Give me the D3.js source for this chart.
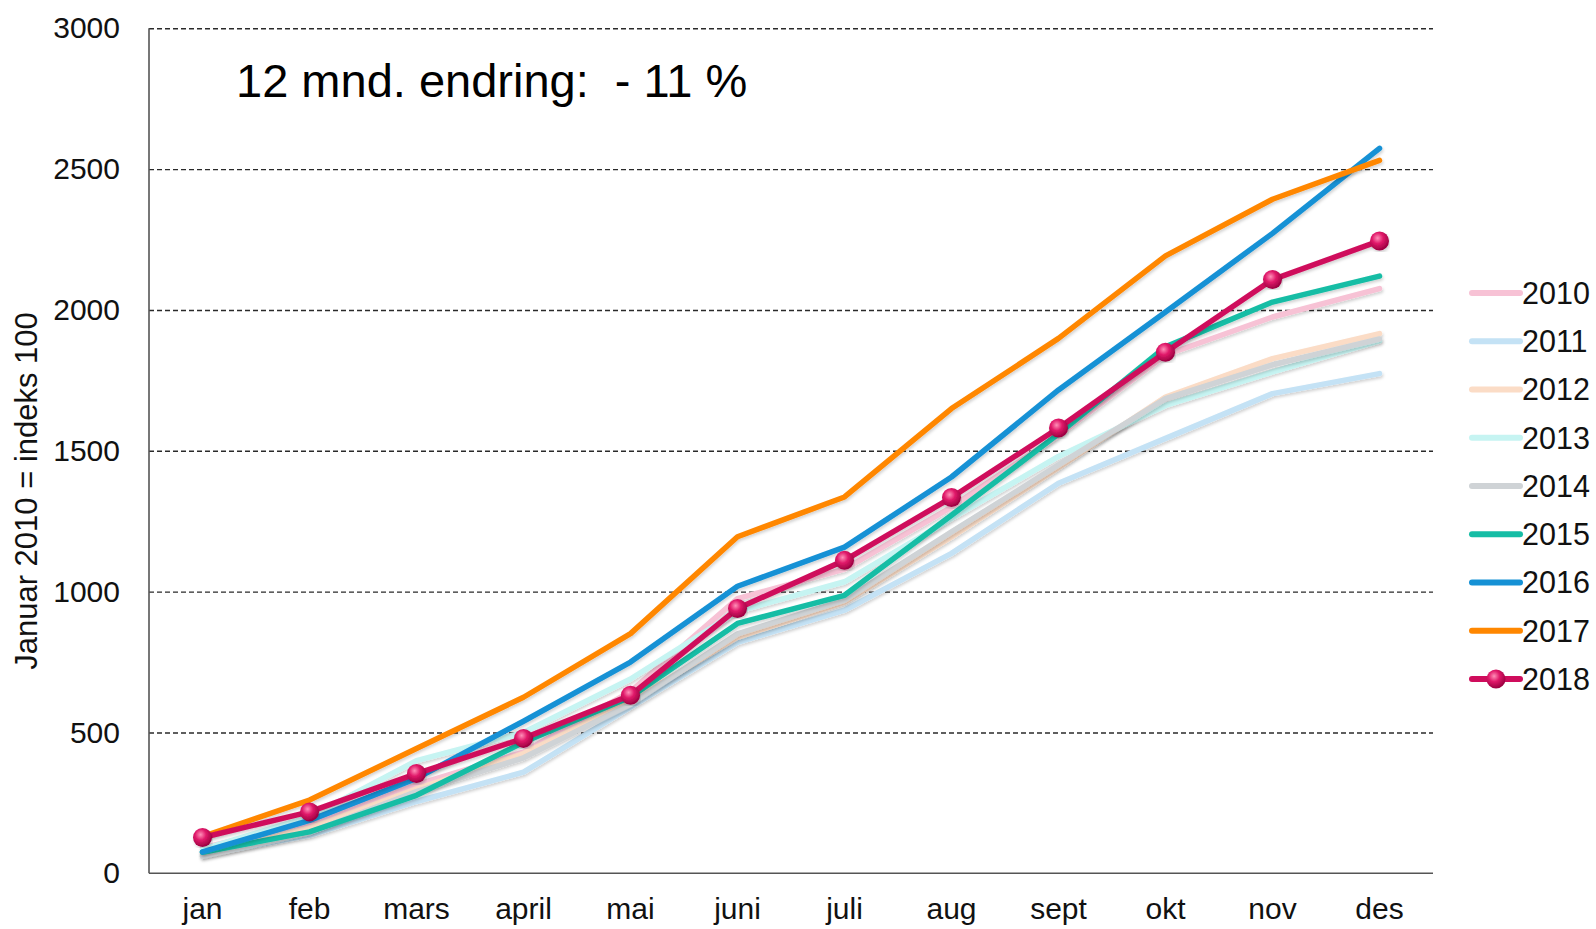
<!DOCTYPE html>
<html>
<head>
<meta charset="utf-8">
<script src="https://cdn.jsdelivr.net/npm/d3@7"></script>
<style>
  html, body { margin: 0; padding: 0; background: #fff; }
  svg { display: block; font-family: "Liberation Sans", Arial, sans-serif; }
  .grid line { stroke: #2a2a2a; stroke-dasharray: 5 3; stroke-width: 1.4; }
  .grid path { display: none; }
</style>
</head>
<body>
<div id="chart"></div>
<script>
// months and y ticks
const months = ["jan", "feb", "mars", "april", "mai", "juni", "juli", "aug", "sept", "okt", "nov", "des"];
const yTicks = [0, 500, 1000, 1500, 2000, 2500, 3000];
const years = ["2010", "2011", "2012", "2013", "2014", "2015", "2016", "2017", "2018"];

// values
const v2010 = [90, 180, 315, 430, 645, 975, 1080, 1300, 1555, 1840, 1975, 2076];
const v2011 = [65, 135, 255, 359, 590, 820, 934, 1136, 1385, 1544, 1703, 1774];
const v2012 = [70, 160, 300, 425, 610, 838, 963, 1194, 1440, 1691, 1827, 1916];
const v2013 = [85, 200, 400, 500, 690, 930, 1035, 1260, 1480, 1661, 1780, 1890];
const v2014 = [60, 145, 290, 410, 600, 850, 970, 1212, 1450, 1685, 1805, 1897];
const v2015 = [75, 147, 277, 465, 626, 887, 987, 1271, 1560, 1869, 2028, 2120];
const v2016 = [76, 188, 337, 540, 750, 1019, 1158, 1407, 1716, 1993, 2272, 2574];
const v2017 = [130, 260, 443, 625, 851, 1195, 1336, 1650, 1899, 2192, 2393, 2531];
const v2018 = [127, 218, 354, 479, 632, 940, 1111, 1334, 1581, 1850, 2108, 2245];

const colors = ["#f7c2d5", "#c4e2f5", "#fbdcc6", "#c6f4f2", "#cfd3d6", "#16bda5", "#1591d5", "#ff8700", "#cf0d5c"];
const series = [v2010, v2011, v2012, v2013, v2014, v2015, v2016, v2017, v2018];

const svgWidth = 1596, svgHeight = 929;
const margin = { top: 28.3, right: 163, bottom: 55.7, left: 149 };
const width = svgWidth - margin.left - margin.right;
const height = svgHeight - margin.top - margin.bottom;

const svg = d3.select("#chart").append("svg")
    .attr("width", svgWidth)
    .attr("height", svgHeight);

const defs = svg.append("defs");
const shadow = defs.append("filter").attr("id", "shadow")
    .attr("x", "-5%").attr("y", "-5%").attr("width", "110%").attr("height", "110%");
shadow.append("feDropShadow")
    .attr("dx", 1).attr("dy", 2).attr("stdDeviation", 1.5)
    .attr("flood-color", "#000").attr("flood-opacity", 0.18);

const ball = defs.append("radialGradient").attr("id", "ball")
    .attr("cx", "40%").attr("cy", "35%").attr("r", "65%");
ball.append("stop").attr("offset", "0%").attr("stop-color", "#ff8fb8");
ball.append("stop").attr("offset", "45%").attr("stop-color", "#e01869");
ball.append("stop").attr("offset", "100%").attr("stop-color", "#9a0040");

const g = svg.append("g").attr("transform", `translate(${margin.left},${margin.top})`);

const x = d3.scaleBand().domain(months).range([0, width]);
const y = d3.scaleLinear().domain([0, 3000]).range([height, 0]);

// dashed gridlines
g.append("g").attr("class", "grid")
    .call(d3.axisLeft(y).tickValues(yTicks.filter(d => d > 0)).tickSize(-width).tickFormat(""));

// y axis labels
const yAxis = g.append("g")
    .call(d3.axisLeft(y).tickValues(yTicks).tickSize(0).tickPadding(29).tickFormat(d3.format("d")));
yAxis.select(".domain").remove();
yAxis.selectAll("text")
    .attr("font-size", 30)
    .attr("font-family", "Liberation Sans, Arial, sans-serif")
    .attr("fill", "#111");

// x axis labels
const xAxis = g.append("g")
    .attr("transform", `translate(0,${height})`)
    .call(d3.axisBottom(x).tickSize(0).tickPadding(24));
xAxis.select(".domain").remove();
xAxis.selectAll("text")
    .attr("font-size", 30)
    .attr("font-family", "Liberation Sans, Arial, sans-serif")
    .attr("fill", "#111");

// left and bottom axis lines
g.append("line").attr("x1", 0).attr("x2", 0).attr("y1", 0).attr("y2", height)
    .attr("stroke", "#555").attr("stroke-width", 1.6);
g.append("line").attr("x1", 0).attr("x2", width).attr("y1", height).attr("y2", height)
    .attr("stroke", "#555").attr("stroke-width", 1.6);

// lines
const line = d3.line()
    .x((d, i) => x(months[i]) + x.bandwidth() / 2)
    .y(d => y(d));

series.forEach(function(s, i) {
    g.append("path")
        .datum(s)
        .attr("d", line)
        .attr("fill", "none")
        .attr("stroke", colors[i])
        .attr("stroke-width", 5.5)
        .attr("stroke-linejoin", "round")
        .attr("stroke-linecap", "round")
        .attr("filter", "url(#shadow)");
});

g.selectAll(".dot")
    .data(v2018)
    .enter().append("circle")
    .attr("class", "dot")
    .attr("cx", (d, i) => x(months[i]) + x.bandwidth() / 2)
    .attr("cy", d => y(d))
    .attr("r", 9.5)
    .attr("fill", "url(#ball)")
    .attr("filter", "url(#shadow)");

// annotation
svg.append("text")
    .attr("x", 236)
    .attr("y", 97)
    .attr("font-size", 47)
    .style("white-space", "pre")
    .attr("fill", "#000")
    .text("12 mnd. endring:  - 11 %");

// y axis title
svg.append("text")
    .attr("transform", "translate(37,491) rotate(-90)")
    .attr("text-anchor", "middle")
    .attr("font-size", 31)
    .attr("fill", "#111")
    .text("Januar 2010 = indeks 100");

// legend
const legend = svg.append("g").attr("transform", "translate(1472,293)");
const item = legend.selectAll(".item")
    .data(years)
    .enter().append("g")
    .attr("transform", (d, i) => `translate(0,${i * 48.25})`);
item.append("line")
    .attr("x1", 0).attr("x2", 48)
    .attr("stroke", (d, i) => colors[i])
    .attr("stroke-width", 6)
    .attr("stroke-linecap", "round");
item.filter(d => d === "2018").append("circle")
    .attr("cx", 24).attr("r", 9.5)
    .attr("fill", "url(#ball)");
item.append("text")
    .attr("x", 50)
    .attr("dy", "0.36em")
    .attr("font-size", 30.5)
    .attr("fill", "#111")
    .text(d => d);
</script>
</body>
</html>
